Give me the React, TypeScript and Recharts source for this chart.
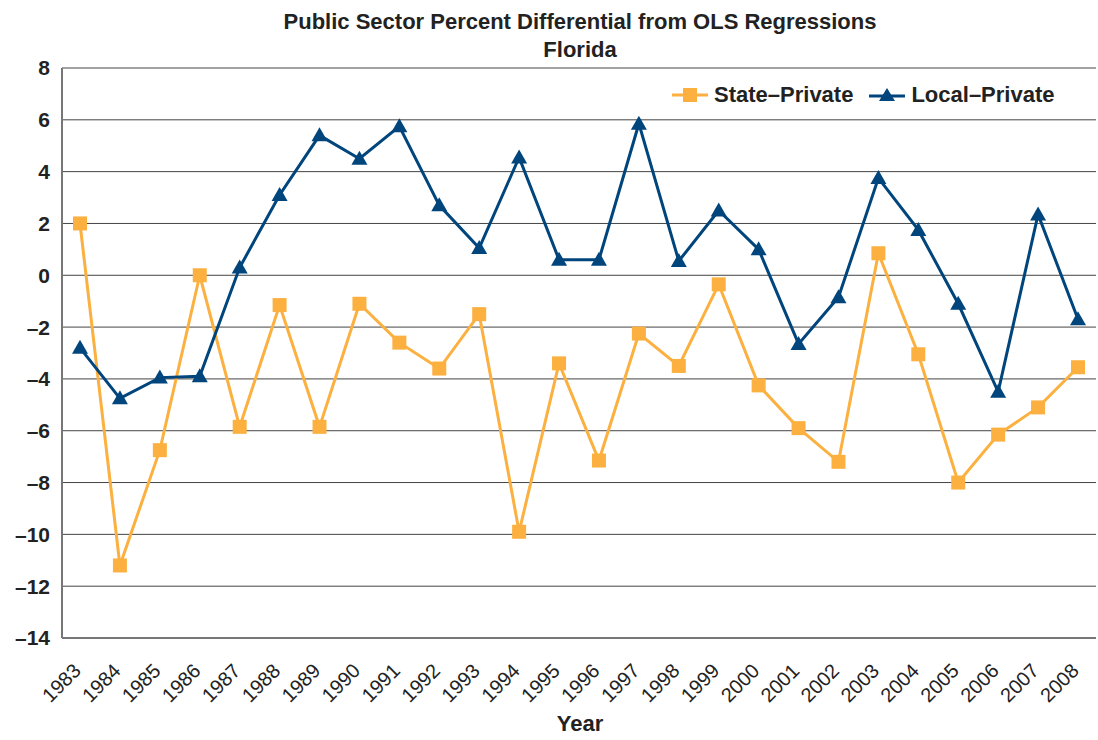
import { LineChart, Line, XAxis, YAxis, CartesianGrid } from 'recharts'

const years = [
  '1983', '1984', '1985', '1986', '1987', '1988', '1989', '1990', '1991', '1992', '1993', '1994', '1995',
  '1996', '1997', '1998', '1999', '2000', '2001', '2002', '2003', '2004', '2005', '2006', '2007', '2008',
]

const statePrivate = [
  2.0, -11.2, -6.75, 0.0, -5.85, -1.15, -5.85, -1.1, -2.6, -3.6, -1.5, -9.9, -3.4,
  -7.15, -2.25, -3.5, -0.35, -4.25, -5.9, -7.2, 0.85, -3.05, -8.0, -6.15, -5.1, -3.55,
]

const localPrivate = [
  -2.8, -4.75, -3.95, -3.9, 0.3, 3.1, 5.4, 4.5, 5.75, 2.7, 1.05, 4.55, 0.6,
  0.6, 5.85, 0.55, 2.5, 1.0, -2.65, -0.85, 3.75, 1.75, -1.1, -4.5, 2.35, -1.7,
]

const yTicks = [-14, -12, -10, -8, -6, -4, -2, 0, 2, 4, 6, 8]

const ORANGE = '#FBB040'
const NAVY = '#00457C'
const narrow = '"Liberation Sans Narrow", "Arial Narrow", "Liberation Sans", sans-serif'
const wide = '"Liberation Sans", Arial, sans-serif'

const data = years.map((y, i) => ({ year: y, state: statePrivate[i], local: localPrivate[i] }))

const SquareDot = (props: any) => {
  const { cx, cy } = props
  if (cx == null || cy == null) return null
  return <rect x={cx - 7} y={cy - 7} width={14} height={14} fill={ORANGE} />
}

const TriangleDot = (props: any) => {
  const { cx, cy } = props
  if (cx == null || cy == null) return null
  return <polygon points={`${cx},${cy - 8} ${cx + 8},${cy + 6} ${cx - 8},${cy + 6}`} fill={NAVY} />
}

// rotated year labels, anchored at their top-right end
const YearTick = (props: any) => {
  const { x, y, payload } = props
  const ax = x + 2
  const ay = y + 26
  return (
    <text
      x={ax}
      y={ay}
      transform={`rotate(-45, ${ax}, ${ay})`}
      textAnchor="end"
      fontFamily={wide}
      fontSize={20}
      fill="#222"
    >
      {payload.value}
    </text>
  )
}

export default function App() {
  return (
    <div style={{ position: 'absolute', left: 0, top: 0, width: 1098, height: 740, background: '#fff' }}>
      <div
        style={{
          position: 'absolute',
          left: 0,
          width: 1160,
          top: 8,
          textAlign: 'center',
          fontFamily: narrow,
          fontWeight: 700,
          fontSize: 22,
          lineHeight: '28px',
          color: '#222',
        }}
      >
        Public Sector Percent Differential from OLS Regressions
        <br />
        Florida
      </div>
      <LineChart width={1098} height={740} data={data} margin={{ top: 68, right: 2, left: 0, bottom: 50 }}>
        <CartesianGrid vertical={false} stroke="#444" strokeWidth={1} />
        <XAxis
          dataKey="year"
          tick={<YearTick />}
          tickLine={false}
          axisLine={{ stroke: '#777', strokeWidth: 2 }}
          interval={0}
          height={52}
          padding={{ left: 18, right: 18 }}
        />
        <YAxis
          domain={[-14, 8]}
          ticks={yTicks}
          width={62}
          interval={0}
          tickLine={false}
          axisLine={{ stroke: '#777', strokeWidth: 2 }}
          tickFormatter={(v: number) => String(v).replace('-', '–')}
          tick={{ fontFamily: wide, fontWeight: 700, fontSize: 21, fill: '#222' }}
          tickMargin={6}
        />
        <Line
          type="linear"
          dataKey="state"
          name="State–Private"
          stroke={ORANGE}
          strokeWidth={3}
          dot={<SquareDot />}
          activeDot={false}
          isAnimationActive={false}
        />
        <Line
          type="linear"
          dataKey="local"
          name="Local–Private"
          stroke={NAVY}
          strokeWidth={3}
          dot={<TriangleDot />}
          activeDot={false}
          isAnimationActive={false}
        />
      </LineChart>
      <div
        style={{
          position: 'absolute',
          left: 672,
          top: 82,
          display: 'flex',
          alignItems: 'center',
          gap: 16,
          fontFamily: wide,
          fontWeight: 700,
          fontSize: 22,
          color: '#222',
        }}
      >
        <div style={{ display: 'flex', alignItems: 'center', gap: 6 }}>
          <svg width={36} height={16}>
            <line x1={0} y1={8} x2={36} y2={8} stroke={ORANGE} strokeWidth={3} />
            <rect x={11} y={1} width={14} height={14} fill={ORANGE} />
          </svg>
          <span>State–Private</span>
        </div>
        <div style={{ display: 'flex', alignItems: 'center', gap: 6 }}>
          <svg width={36} height={16}>
            <line x1={0} y1={9} x2={36} y2={9} stroke={NAVY} strokeWidth={3} />
            <polygon points="18,1 26,14 10,14" fill={NAVY} />
          </svg>
          <span>Local–Private</span>
        </div>
      </div>
      <div
        style={{
          position: 'absolute',
          left: 0,
          width: 1160,
          top: 711,
          textAlign: 'center',
          fontFamily: narrow,
          fontWeight: 700,
          fontSize: 22,
          color: '#222',
        }}
      >
        Year
      </div>
    </div>
  )
}
